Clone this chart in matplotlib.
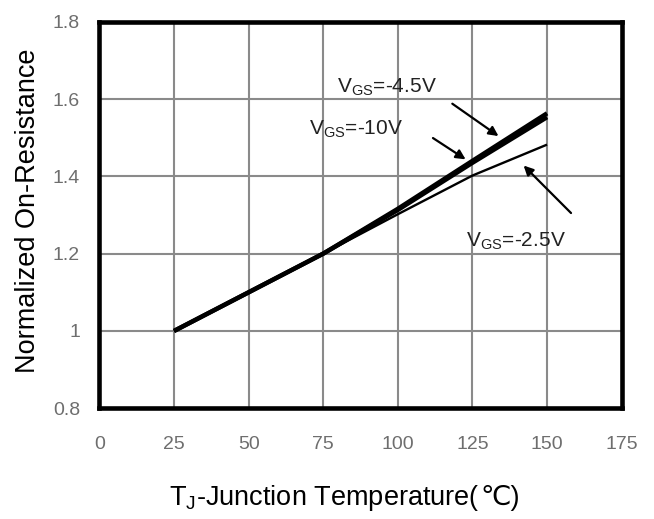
import numpy as np
import matplotlib.pyplot as plt
from matplotlib.offsetbox import TextArea, HPacker, AnnotationBbox

plt.rcParams['font.family'] = ['Liberation Sans', 'DejaVu Sans', 'Noto Sans CJK SC']
plt.rcParams['mathtext.fontset'] = 'custom'
plt.rcParams['mathtext.rm'] = 'Liberation Sans'

# 数据
temp = [25, 50, 75, 100, 125, 150]
r_10v = [1.0, 1.10, 1.20, 1.313, 1.435, 1.553]
r_45v = [1.0, 1.10, 1.20, 1.316, 1.440, 1.563]
r_25v = [1.0, 1.10, 1.20, 1.302, 1.402, 1.482]

x_ticks = [0, 25, 50, 75, 100, 125, 150, 175]
y_ticks = [0.8, 1.0, 1.2, 1.4, 1.6, 1.8]
y_labels = ['0.8', '1', '1.2', '1.4', '1.6', '1.8']

fig = plt.figure(figsize=(6.54, 5.19), dpi=100)
ax = fig.add_axes([0.152, 0.2133, 0.7985, 0.7449])

ax.plot(temp, r_25v, color='black', lw=1.7, solid_capstyle='butt')
ax.plot(temp, r_10v, color='black', lw=3.2, solid_capstyle='butt')
ax.plot(temp, r_45v, color='black', lw=3.2, solid_capstyle='butt')

ax.set_xlim(0, 175)
ax.set_ylim(0.8, 1.8)
ax.set_xticks(x_ticks)
ax.set_yticks(y_ticks)
ax.set_yticklabels(y_labels)
ax.grid(True, color='#8a8a8a', lw=1.5)
ax.set_axisbelow(True)
ax.tick_params(length=0, labelsize=14, labelcolor='#6e6e6e')
ax.tick_params(axis='x', pad=20)
ax.tick_params(axis='y', pad=14)
for s in ax.spines.values():
    s.set_linewidth(3.3)
    s.set_color('black')

ax.set_ylabel('Normalized On-Resistance', fontsize=19.5)
ax.yaxis.set_label_coords(-0.111, 0.51)

# x轴标题 (℃ 需要字体回退, 所以分成两段)
xl1 = TextArea('T$_\\mathrm{J}$-Junction Temperature(', textprops=dict(fontsize=19.5))
xl2 = TextArea('℃)', textprops=dict(fontsize=19.5))
xl = HPacker(children=[xl1, xl2], align='baseline', pad=0, sep=0)
ab = AnnotationBbox(xl, (0.469, -0.233), xycoords='axes fraction',
                    box_alignment=(0.5, 0.5), frameon=False, annotation_clip=False)
ax.add_artist(ab)

arrow = dict(arrowstyle='-|>', color='black', lw=1.6, mutation_scale=14)
ax.annotate('V$_\\mathrm{GS}$=-4.5V', xy=(134, 1.50), xytext=(96.5, 1.63),
            fontsize=15, ha='center', va='center', color='#222222')
ax.annotate('', xy=(134.5, 1.50), xytext=(117.5, 1.592), arrowprops=arrow)
ax.annotate('V$_\\mathrm{GS}$=-10V', xy=(123, 1.44), xytext=(86, 1.522),
            fontsize=15, ha='center', va='center', color='#222222')
ax.annotate('', xy=(123.5, 1.44), xytext=(111, 1.503), arrowprops=arrow)
ax.annotate('V$_\\mathrm{GS}$=-2.5V', xy=(142, 1.436), xytext=(139.7, 1.231),
            fontsize=15, ha='center', va='center', color='#222222')
ax.annotate('', xy=(141.5, 1.433), xytext=(158.7, 1.30), arrowprops=arrow)

plt.savefig('out.png', dpi=100)
